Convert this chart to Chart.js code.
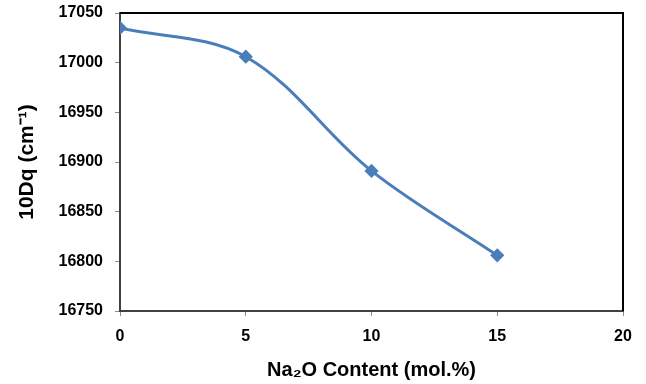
<!DOCTYPE html>
<html>
<head>
<meta charset="utf-8">
<script src="https://cdn.jsdelivr.net/npm/chart.js@4"></script>
<style>
  html, body { margin: 0; padding: 0; background: #fff; }
  #wrap { width: 646px; height: 384px; }
</style>
</head>
<body>
<div id="wrap"><canvas id="chart"></canvas></div>
<script>
// Na2O content (mol.%) vs crystal field splitting 10Dq
const naContent = [0, 5, 10, 15];
const tenDq = [17035, 17006, 16891, 16806];
const xTicks = [0, 5, 10, 15, 20];
const yTicks = [16750, 16800, 16850, 16900, 16950, 17000, 17050];

const LINE = '#4a7ebb';
const TXT = '#000';

// black frame on the top and right of the plot area
const framePlugin = {
  id: 'frame',
  afterDatasetsDraw(chart) {
    const { ctx, chartArea: a } = chart;
    ctx.save();
    ctx.strokeStyle = '#000';
    ctx.lineWidth = 2;
    ctx.beginPath();
    ctx.moveTo(a.left, a.top);
    ctx.lineTo(a.right, a.top);
    ctx.lineTo(a.right, a.bottom);
    ctx.stroke();
    ctx.restore();
  }
};

new Chart(document.getElementById('chart'), {
  type: 'line',
  data: {
    datasets: [{
      data: naContent.map((x, i) => ({ x, y: tenDq[i] })),
      borderColor: LINE,
      backgroundColor: LINE,
      borderWidth: 3,
      tension: 0.35,
      pointStyle: 'rectRot',
      pointRadius: 5,
      pointHoverRadius: 5,
      fill: false
    }]
  },
  options: {
    responsive: true,
    maintainAspectRatio: false,
    animation: false,
    layout: { padding: { left: 0, right: 23, top: 13, bottom: 0 } },
    scales: {
      x: {
        type: 'linear',
        min: 0,
        max: 20,
        afterBuildTicks: (s) => { s.ticks = xTicks.map(v => ({ value: v })); },
        afterFit: (s) => { s.height = 73; s.paddingLeft = 0; s.paddingRight = 0; },
        grid: { drawOnChartArea: false, drawTicks: true, tickLength: 5, color: '#8c8c8c' },
        border: { color: '#404040', width: 2 },
        ticks: {
          padding: 11,
          color: TXT,
          callback: (v) => String(v),
          font: { family: 'Liberation Sans, Arial', size: 16, weight: 'bold' }
        },
        title: {
          display: true,
          text: 'Na₂O Content (mol.%)',
          color: TXT,
          padding: { top: 0, bottom: 2 },
          font: { family: 'Liberation Sans, Arial', size: 20, weight: 'bold' }
        }
      },
      y: {
        min: 16750,
        max: 17050,
        afterBuildTicks: (s) => { s.ticks = yTicks.map(v => ({ value: v })); },
        afterFit: (s) => { s.width = 120; s.paddingTop = 0; s.paddingBottom = 0; },
        grid: { drawOnChartArea: false, drawTicks: true, tickLength: 5, color: '#8c8c8c' },
        border: { color: '#404040', width: 2 },
        ticks: {
          padding: 12,
          color: TXT,
          callback: (v) => String(v),
          font: { family: 'Liberation Sans, Arial', size: 16, weight: 'bold' }
        },
        title: {
          display: true,
          text: '10Dq (cm⁻¹)',
          color: TXT,
          padding: { top: 15, bottom: 0 },
          font: { family: 'Liberation Sans, Arial', size: 21, weight: 'bold' }
        }
      }
    },
    plugins: {
      legend: { display: false },
      tooltip: { enabled: false }
    }
  },
  plugins: [framePlugin]
});
</script>
</body>
</html>
